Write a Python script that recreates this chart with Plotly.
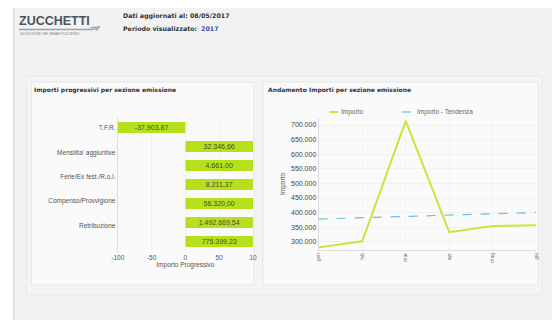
import plotly.graph_objects as go

# data
sezioni = ["T.F.R.", "Mensilita' aggiuntive", "Ferie/Ex fest./R.o.l.", "Compenso/Provvigione", "Retribuzione"]
progressivo = [-100, 100, 100, 100, 100, 100, 100]
importi_label = ["-37.903,87", "32.346,66", "4.661,00", "8.211,37", "56.320,00", "1.492.669,54", "775.399,23"]
mesi = ["gen", "feb", "mar", "apr", "mag", "giu"]
importo = [281000, 302000, 714000, 333000, 354000, 357000]
tendenza = [378000, 382500, 387000, 391500, 396000, 400500]

W, H = 556, 320
def px(x):
    return x / W
def py(y):
    return 1 - y / H

fig = go.Figure()

# left: bars
fig.add_trace(go.Bar(
    x=progressivo, y=list(range(len(progressivo))), orientation="h",
    marker=dict(color="#b6e01c", line=dict(width=0)),
    width=0.58, text=importi_label, textposition="inside", insidetextanchor="middle",
    constraintext="none",
    textfont=dict(family="Liberation Sans", size=7, color="#4a4a3a"), showlegend=False,
    xaxis="x", yaxis="y", hoverinfo="skip"
))

# right: lines
fig.add_trace(go.Scatter(
    x=mesi, y=importo, mode="lines", name="Importo", showlegend=False,
    line=dict(color="#cde33a", width=2), xaxis="x2", yaxis="y2"
))
fig.add_trace(go.Scatter(
    x=mesi, y=tendenza, mode="lines", name="Importo - Tendenza", showlegend=False,
    line=dict(color="#6cbfe0", width=1.2, dash="dash"), xaxis="x2", yaxis="y2"
))

font = "Liberation Sans"
ax_font = dict(family=font, size=6.5, color="#555555")

fig.update_layout(
    width=W, height=H, margin=dict(l=0, r=0, t=0, b=0),
    paper_bgcolor="white", plot_bgcolor="white",
    separators=",.",
    font=dict(family=font, size=6.5, color="#444444"),
    xaxis=dict(domain=[px(113), px(251)], range=[-100, 100], tickvals=[-100, -50, 0, 50, 100],
               ticktext=["-100", "-50", "0", "50", "10"], tickfont=ax_font,
               showgrid=True, gridcolor="#f0f0f0", zeroline=False, showline=False,
               title=dict(text="Importo Progressivo", font=ax_font, standoff=2), anchor="y"),
    yaxis=dict(domain=[py(252), py(118)], range=[6.55, -0.5], tickvals=[0, 1.32, 2.58, 3.84, 5.18],
               ticktext=sezioni, tickfont=ax_font, showgrid=False, zeroline=False,
               showline=True, linecolor="#dddddd", ticks="", anchor="x"),
    xaxis2=dict(domain=[px(318), px(540)], tickangle=-90, tickfont=dict(family=font, size=5, color="#777"),
                showgrid=True, gridcolor="#f3f3f3", showline=True, linecolor="#dddddd",
                range=[0, 5], anchor="y2"),
    yaxis2=dict(domain=[py(250), py(118)], range=[272000, 724000], dtick=50000, tickformat=",d",
                tickfont=dict(family=font, size=7, color="#444444"),
                showgrid=True, gridcolor="#f0f0f0", zeroline=False, showline=True, linecolor="#dddddd",
                title=dict(text="Importo", font=ax_font, standoff=4), anchor="x2"),
)

shapes = [
    dict(type="rect", xref="paper", yref="paper", x0=px(7), x1=1, y0=0, y1=py(8),
         fillcolor="#f2f2f2", line=dict(width=0), layer="below"),
    dict(type="line", xref="paper", yref="paper", x0=px(7), x1=px(7), y0=0, y1=py(8),
         line=dict(color="#c8c8c8", width=1), layer="below"),
    dict(type="rect", xref="paper", yref="paper", x0=px(20), x1=px(546), y0=py(295), y1=py(76),
         fillcolor="#f4f4f4", line=dict(color="#e8e8e8", width=1), layer="below"),
    dict(type="rect", xref="paper", yref="paper", x0=px(25), x1=px(252), y0=py(285), y1=py(82),
         fillcolor="#fafafa", line=dict(color="#e6e6e6", width=1), layer="below"),
    dict(type="rect", xref="paper", yref="paper", x0=px(261), x1=px(542), y0=py(285), y1=py(82),
         fillcolor="#fafafa", line=dict(color="#e6e6e6", width=1), layer="below"),
    # logo swoosh
    dict(type="line", xref="paper", yref="paper", x0=px(12), x1=px(88), y0=py(29.5), y1=py(29.5),
         line=dict(color="#9aa2ab", width=1.5)),
    dict(type="path", xref="paper", yref="paper",
         path=f"M {px(84)},{py(27)} L {px(96)},{py(26)} L {px(92)},{py(31)} Z",
         fillcolor="#aab2ba", line=dict(width=0)),
    # manual legend
    dict(type="line", xref="paper", yref="paper", x0=px(329), x1=px(338), y0=py(112), y1=py(112),
         line=dict(color="#cde33a", width=2)),
    dict(type="line", xref="paper", yref="paper", x0=px(403), x1=px(413), y0=py(112), y1=py(112),
         line=dict(color="#6cbfe0", width=1.2, dash="dash")),
]

annotations = [
    dict(text="<b>ZUCCHETTI</b>", x=px(10), y=py(21.5), xanchor="left", yanchor="middle",
         font=dict(family="Liberation Sans", size=12.5, color="#4d545c")),
    dict(text="LE SOLUZIONI CHE CREANO SUCCESSO", x=px(11), y=py(34), xanchor="left", yanchor="middle",
         font=dict(family=font, size=3, color="#777777")),
    dict(text="<b>Dati aggiornati al: 08/05/2017</b>", x=px(116), y=py(16), xanchor="left", yanchor="middle",
         font=dict(family="DejaVu Sans", size=6.3, color="#333333")),
    dict(text="<b>Periodo visualizzato:</b>  <b><span style='color:#3a4bb0'>2017</span></b>", x=px(116), y=py(28),
         xanchor="left", yanchor="middle", font=dict(family="DejaVu Sans", size=6.3, color="#333333")),
    dict(text="<b>Importi progressivi per sezione emissione</b>", x=px(26), y=py(90), xanchor="left",
         yanchor="middle", font=dict(family="DejaVu Sans", size=6, color="#333333")),
    dict(text="<b>Andamento Importi per sezione emissione</b>", x=px(264), y=py(90), xanchor="left",
         yanchor="middle", font=dict(family="DejaVu Sans", size=6, color="#333333")),
    dict(text="Importo", x=px(339), y=py(112), xanchor="left", yanchor="middle",
         font=dict(family=font, size=6.5, color="#666666")),
    dict(text="Importo - Tendenza", x=px(416), y=py(112), xanchor="left", yanchor="middle",
         font=dict(family=font, size=6.5, color="#666666")),
]
for a in annotations:
    a.update(xref="paper", yref="paper", showarrow=False)

fig.update_layout(shapes=shapes, annotations=annotations)
fig.write_html("out.html", config={"displayModeBar": False},
               post_script="document.body.style.margin='0';")
